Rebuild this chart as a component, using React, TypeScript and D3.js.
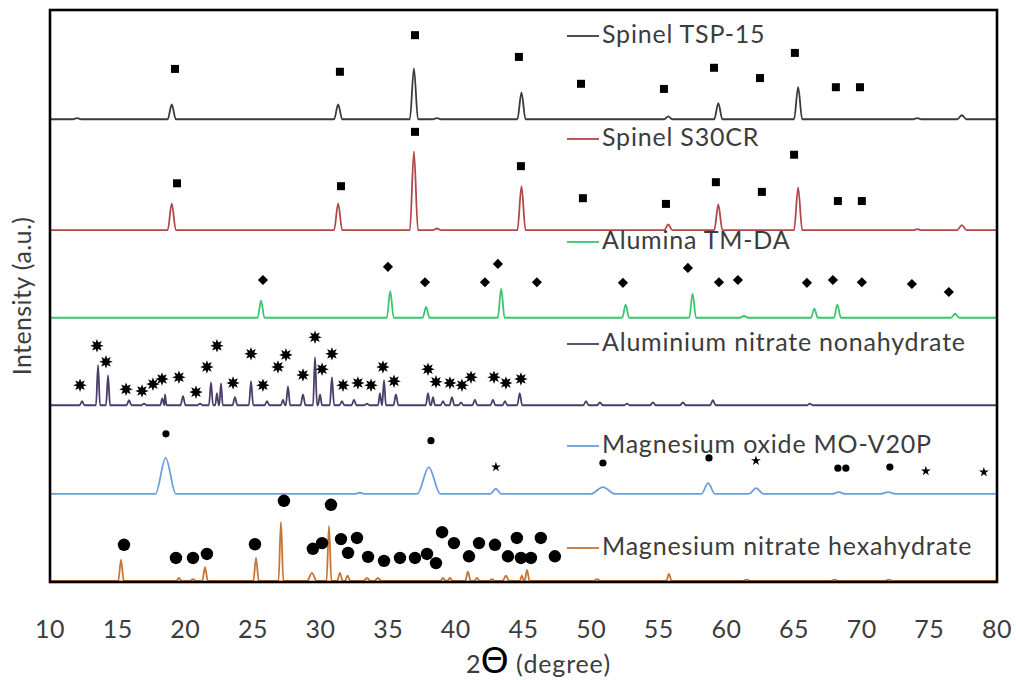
import * as d3 from 'd3'

// XRD patterns, stacked. peaks are [2theta, height (a.u.), half width (deg)]
const tsp15Peaks: [number, number, number][] = [
  [12.0, 2, 0.3], [19.0, 26, 0.3], [31.3, 26, 0.3], [36.9, 89, 0.3], [38.6, 2, 0.3],
  [44.85, 47, 0.3], [55.7, 5, 0.3], [59.4, 28, 0.3], [65.3, 56, 0.3], [74.1, 2, 0.3], [77.4, 7, 0.35],
]
const s30crPeaks: [number, number, number][] = [
  [19.0, 47, 0.3], [31.3, 47, 0.3], [36.9, 138, 0.3], [38.6, 3, 0.3], [44.85, 77, 0.3],
  [55.7, 10, 0.3], [59.4, 45, 0.3], [65.3, 75, 0.3], [74.1, 2, 0.3], [77.4, 9, 0.35],
]
const aluminaPeaks: [number, number, number][] = [
  [25.6, 30, 0.25], [35.15, 47, 0.25], [37.8, 19, 0.25], [43.35, 51, 0.25], [52.55, 23, 0.25],
  [57.5, 42, 0.25], [61.3, 3, 0.3], [66.5, 16, 0.25], [68.2, 23, 0.25], [76.9, 7, 0.3],
]
const alNitratePeaks: [number, number, number][] = [
  [12.37, 7, 0.18], [13.55, 70, 0.15], [14.29, 52, 0.15], [15.84, 9, 0.18], [16.95, 3, 0.18],
  [18.3, 12, 0.15], [18.5, 19, 0.12], [19.83, 16, 0.18], [21.09, 3, 0.18], [21.9, 40, 0.15],
  [22.34, 21, 0.13], [22.64, 38, 0.13], [23.67, 14, 0.18], [24.86, 42, 0.16], [26.04, 7, 0.18],
  [27.22, 10, 0.15], [27.59, 33, 0.16], [28.7, 19, 0.18], [29.59, 84, 0.15], [29.96, 19, 0.15],
  [30.84, 49, 0.16], [31.58, 7, 0.18], [32.47, 10, 0.18], [33.43, 3, 0.18], [34.39, 21, 0.14],
  [34.69, 44, 0.14], [35.57, 19, 0.18], [37.94, 21, 0.16], [38.31, 14, 0.15], [39.05, 7, 0.18],
  [39.71, 14, 0.18], [40.38, 5, 0.18], [41.41, 10, 0.18], [42.74, 10, 0.18], [43.63, 7, 0.18],
  [44.72, 21, 0.18], [49.62, 7, 0.2], [50.65, 5, 0.2], [52.65, 3, 0.2], [54.57, 5, 0.2],
  [56.78, 5, 0.2], [59.0, 9, 0.2], [66.17, 3, 0.2],
]
const mgoPeaks: [number, number, number][] = [
  [18.55, 63, 0.75], [32.9, 2, 0.4], [38.0, 47, 0.85], [42.95, 9, 0.4], [50.87, 12, 0.9],
  [58.65, 19, 0.5], [62.2, 10, 0.55], [68.3, 3, 0.5], [71.95, 3, 0.6],
]
const mgNitratePeaks: [number, number, number][] = [
  [15.25, 37, 0.2], [19.53, 5, 0.2], [20.57, 3, 0.2], [21.46, 24, 0.2], [25.23, 40, 0.2],
  [27.07, 103, 0.18], [29.36, 14, 0.35], [30.62, 96, 0.18], [31.43, 14, 0.2], [32.0, 9, 0.2],
  [33.43, 5, 0.25], [34.24, 5, 0.25], [39.05, 5, 0.2], [39.56, 5, 0.2], [40.89, 16, 0.2],
  [41.56, 5, 0.2], [42.67, 3, 0.2], [43.7, 9, 0.25], [44.88, 9, 0.15], [45.26, 19, 0.18],
  [50.43, 3, 0.25], [55.75, 12, 0.2], [61.5, 2, 0.3], [68.0, 2, 0.3], [72.0, 2, 0.3],
]

const seriesNames = [
  'Spinel TSP-15', 'Spinel S30CR', 'Alumina TM-DA', 'Aluminium nitrate nonahydrate',
  'Magnesium oxide MO-V20P', 'Magnesium nitrate hexahydrate',
]
const seriesPeaks = [tsp15Peaks, s30crPeaks, aluminaPeaks, alNitratePeaks, mgoPeaks, mgNitratePeaks]
const seriesOffsets = [809, 615, 462, 309, 154, 2]
const seriesColors = ['#3a3a3a', '#b04848', '#3cc46e', '#4a3d68', '#6b9fd9', '#c47536']

// phase markers [2theta, a.u.]
const squareMarks: [number, number][] = [
  [19.24, 897], [31.43, 892], [36.98, 956], [44.66, 918], [49.25, 871], [55.38, 862],
  [59.08, 899], [62.48, 881], [65.06, 925], [68.09, 865], [69.87, 865],
  [19.39, 697], [31.51, 692], [36.98, 787], [44.81, 727], [49.39, 671], [55.53, 661],
  [59.22, 699], [62.62, 682], [65.0, 747], [68.24, 666], [70.01, 666],
]
const diamondMarks: [number, number][] = [
  [25.74, 528], [34.98, 551], [37.72, 524], [42.15, 524], [43.11, 556], [45.99, 524],
  [52.35, 523], [57.15, 549], [59.45, 524], [60.85, 528], [65.95, 523], [67.87, 528],
  [70.01, 524], [73.71, 521], [76.44, 507],
]
const burstMarks: [number, number][] = [
  [12.22, 344], [13.47, 413], [14.14, 385], [15.62, 337], [16.8, 334], [17.61, 346],
  [18.28, 355], [19.53, 358], [20.79, 332], [21.6, 376], [22.34, 413], [23.53, 348],
  [24.86, 399], [25.74, 344], [26.85, 376], [27.44, 397], [28.7, 362], [29.59, 428],
  [30.11, 372], [30.84, 399], [31.66, 344], [32.76, 348], [33.73, 344], [34.61, 376],
  [35.43, 351], [37.94, 372], [38.53, 350], [39.56, 348], [40.45, 344], [41.12, 358],
  [42.82, 358], [43.7, 348], [44.81, 355],
]
const smallDotMarks: [number, number][] = [
  [18.57, 259], [38.16, 247], [50.87, 208], [58.71, 217], [68.24, 199], [68.83, 199], [72.08, 201],
]
const starMarks: [number, number][] = [
  [42.96, 201], [62.18, 212], [74.74, 194], [79.03, 192],
]
const bigDotMarks: [number, number][] = [
  [15.47, 65], [19.31, 42], [20.57, 42], [21.6, 49], [25.15, 66], [27.29, 142], [29.43, 58],
  [30.11, 68], [30.77, 135], [31.51, 75], [32.03, 51], [32.69, 77], [33.51, 44], [34.69, 37],
  [35.87, 42], [36.98, 42], [37.87, 49], [38.53, 33], [38.98, 87], [39.86, 68], [40.97, 45],
  [41.71, 68], [42.89, 65], [43.85, 45], [44.51, 77], [44.81, 42], [45.55, 42], [46.28, 77],
  [47.32, 45],
]

const xTicks = [10, 15, 20, 25, 30, 35, 40, 45, 50, 55, 60, 65, 70, 75, 80]
const legendBaselines = [43, 146, 249, 351, 453, 555]

const FONT = "Lato, 'Noto Sans', sans-serif"
const TEXT = '#3c3c3c'

const toPoints = (peaks: [number, number, number][]) => {
  const pts: [number, number][] = [[10, 0]]
  for (const [p, h, w] of peaks) {
    const last = pts[pts.length - 1][0]
    pts.push([Math.max(p - w, last + 0.01), 0], [p, h], [p + w, 0])
  }
  pts.push([80, 0])
  return pts
}

const burstPath = (() => {
  const pts: [number, number][] = []
  for (let i = 0; i < 16; i++) {
    pts.push([(i * Math.PI) / 8, i % 2 === 0 ? 6.8 : 3.4])
  }
  return d3.lineRadial().curve(d3.curveLinearClosed)(pts) as string
})()

export default function App() {
  const x = d3.scaleLinear().domain([10, 80]).range([50, 997])
  const y = d3.scaleLinear().domain([0, 1000]).range([582, 10])
  const line = d3
    .line<[number, number]>()
    .x((d) => x(d[0]))
    .curve(d3.curveMonotoneX)

  const square = d3.symbol(d3.symbolSquare, 64)()
  const diamond = d3.symbol(d3.symbolSquare, 52)()
  const star = d3.symbol(d3.symbolStar, 30)()

  return (
    <svg width={1016} height={680} style={{ position: 'absolute', left: 0, top: 0 }} fontFamily={FONT}>
      <rect width={1016} height={680} fill='#fff' />

      {seriesPeaks.map((peaks, i) => (
        <path
          key={seriesNames[i]}
          d={line.y((d) => y(d[1] + seriesOffsets[i]))(toPoints(peaks)) as string}
          fill='none'
          stroke={seriesColors[i]}
          strokeWidth={1.8}
          strokeLinejoin='round'
        />
      ))}

      {squareMarks.map((d, i) => (
        <path key={'sq' + i} d={square as string} transform={`translate(${x(d[0])},${y(d[1])})`} fill='#000' />
      ))}
      {diamondMarks.map((d, i) => (
        <path key={'di' + i} d={diamond as string} transform={`translate(${x(d[0])},${y(d[1])}) rotate(45)`} fill='#000' />
      ))}
      {burstMarks.map((d, i) => (
        <path key={'bu' + i} d={burstPath} transform={`translate(${x(d[0])},${y(d[1])})`} fill='#000' />
      ))}
      {smallDotMarks.map((d, i) => (
        <circle key={'sd' + i} cx={x(d[0])} cy={y(d[1])} r={3.6} fill='#000' />
      ))}
      {starMarks.map((d, i) => (
        <path key={'st' + i} d={star as string} transform={`translate(${x(d[0])},${y(d[1])})`} fill='#000' />
      ))}
      {bigDotMarks.map((d, i) => (
        <circle key={'bd' + i} cx={x(d[0])} cy={y(d[1])} r={6.2} fill='#000' />
      ))}

      {seriesNames.map((name, i) => (
        <g key={'lg' + i}>
          <line x1={567} x2={599} y1={legendBaselines[i] - 7} y2={legendBaselines[i] - 7} stroke={seriesColors[i]} strokeWidth={1.8} />
          <text x={602} y={legendBaselines[i]} fontSize={25} letterSpacing={0.8} fill={TEXT}>
            {name}
          </text>
        </g>
      ))}

      <rect x={50} y={10} width={947} height={572} fill='none' stroke='#000' strokeWidth={2.6} />

      {xTicks.map((t) => (
        <text key={t} x={x(t)} y={638} textAnchor='middle' fontSize={25} letterSpacing={0.5} fill={TEXT}>
          {t}
        </text>
      ))}

      <text x={466} y={673} fontSize={25} fill={TEXT}>
        2<tspan fontSize={36} fill='#000' fontFamily="'DejaVu Sans'">Θ</tspan>
        <tspan letterSpacing={0.8}> (degree)</tspan>
      </text>

      <text transform='translate(31,296) rotate(-90)' textAnchor='middle' fontSize={25} letterSpacing={0.4} fill={TEXT}>
        Intensity (a.u.)
      </text>
    </svg>
  )
}
